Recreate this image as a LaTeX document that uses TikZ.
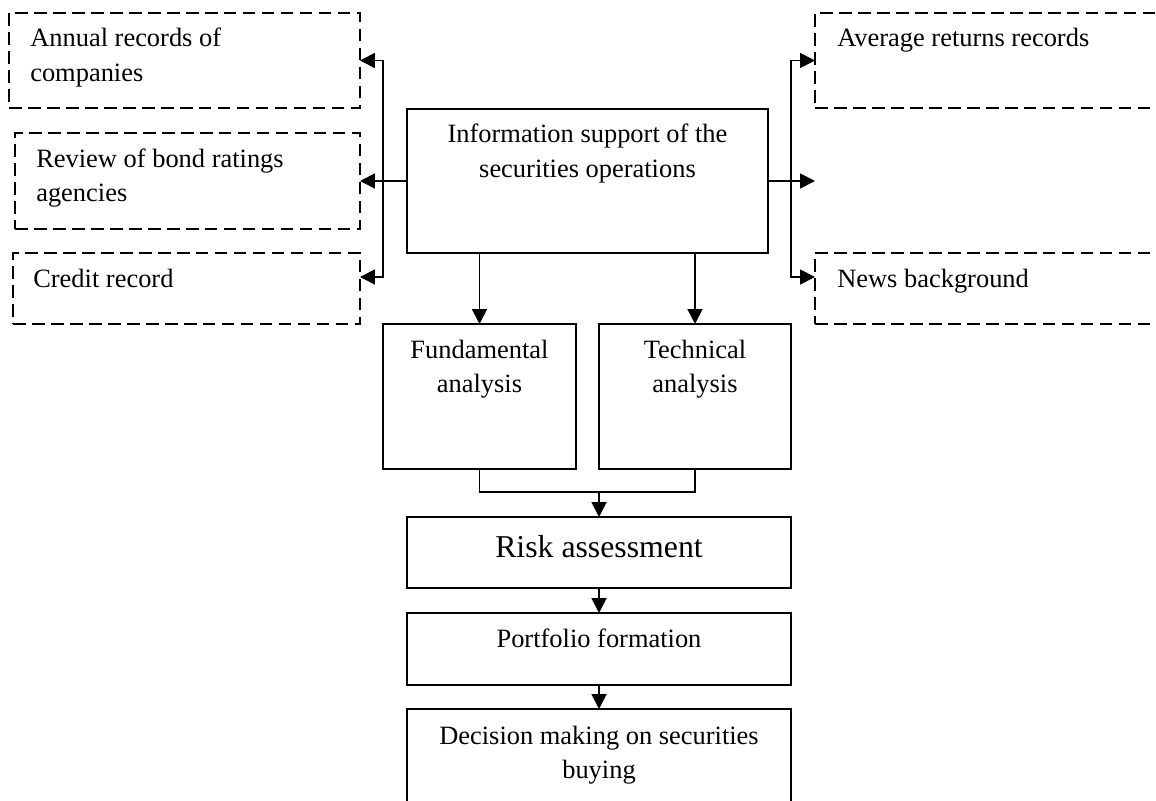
\documentclass[tikz,border=0pt]{standalone}
\usepackage{fontspec}
\setmainfont{Liberation Serif}
\usetikzlibrary{arrows.meta,calc,fit}
\newcommand{\tabT}[2]{\begin{tabular}[t]{@{}#1@{}}#2\end{tabular}}
\begin{document}
\begin{tikzpicture}[x=0.025cm,y=-0.025cm,
 box/.style={draw, line width=1.3pt, inner sep=0pt, outer sep=0pt},
 dbox/.style={draw, line width=1.1pt, dash pattern=on 9pt off 4.5pt, inner sep=0pt, outer sep=0pt},
 txt/.style={inner sep=0pt, font=\fontsize{18.8}{24.8}\selectfont},
 big/.style={inner sep=0pt, font=\fontsize{22.6}{28}\selectfont},
 conn/.style={line width=1.3pt},
 arr/.style={conn, -{Triangle[length=10.5pt,width=10.5pt]}}]
\useasboundingbox (0,0) rectangle (1156,801);
\clip (0,0) rectangle (1156,801);

% boxes
\node[dbox, fit={(9,13) (360,108)}] (ann) {};
\node[dbox, fit={(15,133) (360,229)}] (rev) {};
\node[dbox, fit={(13,253) (360,324)}] (cr) {};
\node[dbox, fit={(815,13) (1175,108)}] (avg) {};
\node[dbox, fit={(815,253) (1175,324)}] (news) {};
\node[box, fit={(407,109) (768,253)}] (main) {};
\node[box, fit={(383,324) (576,469)}] (fund) {};
\node[box, fit={(599,324) (791,469)}] (tech) {};
\node[box, fit={(407,517) (791,588)}] (risk) {};
\node[box, fit={(407,613) (791,685)}] (port) {};
\node[box, fit={(407,709) (791,830)}] (dec) {};

% texts
\node[txt, anchor=base west] (annT) at (30,47) {\tabT{l}{Annual records of\\companies}};
\node[txt, anchor=base west] (revT) at (36,167) {\tabT{l}{Review of bond ratings\\agencies}};
\node[txt, anchor=base west] (crT) at (33,287) {Credit record};
\node[txt, anchor=base west] (avgT) at (837,47) {Average returns records};
\node[txt, anchor=base west] (newsT) at (837,287) {News background};
\node[txt, anchor=base] (mainT) at (587.5,143) {\tabT{c}{Information support of the\\securities operations}};
\node[txt, anchor=base] (fundT) at (479.5,358) {\tabT{c}{Fundamental\\analysis}};
\node[txt, anchor=base] (techT) at (695,358) {\tabT{c}{Technical\\analysis}};
\node[big, anchor=base] (riskT) at (599,557) {Risk assessment};
\node[txt, anchor=base] (portT) at (599,647) {Portfolio formation};
\node[txt, anchor=base] (decT) at (599,744) {\tabT{c}{Decision making on securities\\buying}};

% left connectors
\coordinate (tl) at (383,181);
\coordinate (crA) at ($(cr.north east)+(0,24)$);
\draw[arr] (main.west) -- (rev.east);
\draw[arr] (tl) |- (ann.east);
\draw[arr] (tl) |- (crA);

% right connectors
\coordinate (tr) at (791,181);
\coordinate (rfree) at (815,181);
\coordinate (nwA) at ($(news.north west)+(0,24)$);
\draw[arr] (main.east) -- (rfree);
\draw[arr] (tr) |- (avg.west);
\draw[arr] (tr) |- (nwA);

% down
\draw[arr] (fund.north |- main.south) -- (fund.north);
\draw[arr] (tech.north |- main.south) -- (tech.north);
\coordinate (mj) at (risk.north |- 0,492);
\draw[conn] (fund.south) -- (fund.south |- mj) -- (tech.south |- mj) -- (tech.south);
\draw[arr] (mj) -- (risk.north);
\draw[arr] (risk.south) -- (port.north);
\draw[arr] (port.south) -- (dec.north);
\end{tikzpicture}
\end{document}
